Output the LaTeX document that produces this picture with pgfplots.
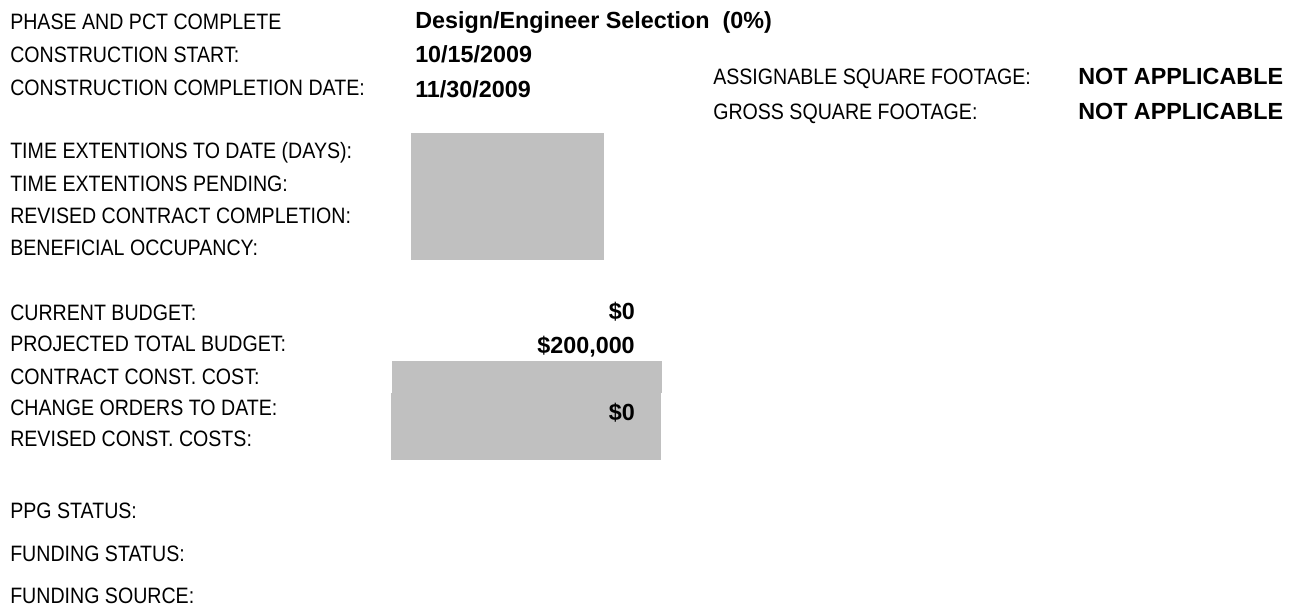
\documentclass[border=0pt]{standalone}
\usepackage{pgfplots}
\pgfplotsset{compat=1.18}
\usepackage{fontspec}
\setmainfont{Liberation Sans}
\newfontfamily\narrowfont[FakeStretch=0.88]{Liberation Sans}
\definecolor{boxgray}{RGB}{192,192,192}

\newcommand{\lbl}[1]{{\narrowfont\fontsize{16.7pt}{20pt}\selectfont #1}}
\newcommand{\val}[1]{{\bfseries\fontsize{17.5pt}{20pt}\selectfont #1}}

\begin{document}
\begin{tikzpicture}
\begin{axis}[
  scale only axis, width=969.75pt, height=457.5pt,
  xmin=0, xmax=1293, ymin=0, ymax=610, y dir=reverse,
  hide axis, clip=false,
]
% page extent
\addplot[draw=none, forget plot] coordinates {(0,0) (1293,610)};

% shaded fields
\addplot[fill=boxgray, draw=none] coordinates {(411,133) (604,133) (604,260) (411,260)} -- cycle;
\addplot[fill=boxgray, draw=none] coordinates {(392,361) (662,361) (662,393) (392,393)} -- cycle;
\addplot[fill=boxgray, draw=none] coordinates {(391,393) (661,393) (661,460) (391,460)} -- cycle;

% left labels (baseline = cap centre + 8)
\node[anchor=base west, inner sep=0] at (axis cs:10,30)  {\lbl{PHASE AND PCT COMPLETE}};
\node[anchor=base west, inner sep=0] at (axis cs:10,63)  {\lbl{CONSTRUCTION START:}};
\node[anchor=base west, inner sep=0] at (axis cs:10,96)  {\lbl{CONSTRUCTION COMPLETION DATE:}};
\node[anchor=base west, inner sep=0] at (axis cs:10,158) {\lbl{TIME EXTENTIONS TO DATE (DAYS):}};
\node[anchor=base west, inner sep=0] at (axis cs:10,191) {\lbl{TIME EXTENTIONS PENDING:}};
\node[anchor=base west, inner sep=0] at (axis cs:10,223) {\lbl{REVISED CONTRACT COMPLETION:}};
\node[anchor=base west, inner sep=0] at (axis cs:10,255) {\lbl{BENEFICIAL OCCUPANCY:}};
\node[anchor=base west, inner sep=0] at (axis cs:10,320) {\lbl{CURRENT BUDGET:}};
\node[anchor=base west, inner sep=0] at (axis cs:10,351) {\lbl{PROJECTED TOTAL BUDGET:}};
\node[anchor=base west, inner sep=0] at (axis cs:10,384) {\lbl{CONTRACT CONST. COST:}};
\node[anchor=base west, inner sep=0] at (axis cs:10,415) {\lbl{CHANGE ORDERS TO DATE:}};
\node[anchor=base west, inner sep=0] at (axis cs:10,446) {\lbl{REVISED CONST. COSTS:}};
\node[anchor=base west, inner sep=0] at (axis cs:10,518) {\lbl{PPG STATUS:}};
\node[anchor=base west, inner sep=0] at (axis cs:10,561) {\lbl{FUNDING STATUS:}};
\node[anchor=base west, inner sep=0] at (axis cs:10,603) {\lbl{FUNDING SOURCE:}};

% values
\node[anchor=base west, inner sep=0] at (axis cs:415,29) {\val{Design/Engineer Selection\ \ (0\%)}};
\node[anchor=base west, inner sep=0] at (axis cs:415,63) {\val{10/15/2009}};
\node[anchor=base west, inner sep=0] at (axis cs:415,98) {\val{11/30/2009}};
\node[anchor=base east, inner sep=0] at (axis cs:635,319) {\val{\$0}};
\node[anchor=base east, inner sep=0] at (axis cs:635,353) {\val{\$200,000}};
\node[anchor=base east, inner sep=0] at (axis cs:635,420) {\val{\$0}};

% right block
\node[anchor=base west, inner sep=0] at (axis cs:713,85)  {\lbl{ASSIGNABLE SQUARE FOOTAGE:}};
\node[anchor=base west, inner sep=0] at (axis cs:713,120) {\lbl{GROSS SQUARE FOOTAGE:}};
\node[anchor=base west, inner sep=0] at (axis cs:1078,85)  {\val{NOT APPLICABLE}};
\node[anchor=base west, inner sep=0] at (axis cs:1078,120) {\val{NOT APPLICABLE}};
\end{axis}
\end{tikzpicture}
\end{document}
